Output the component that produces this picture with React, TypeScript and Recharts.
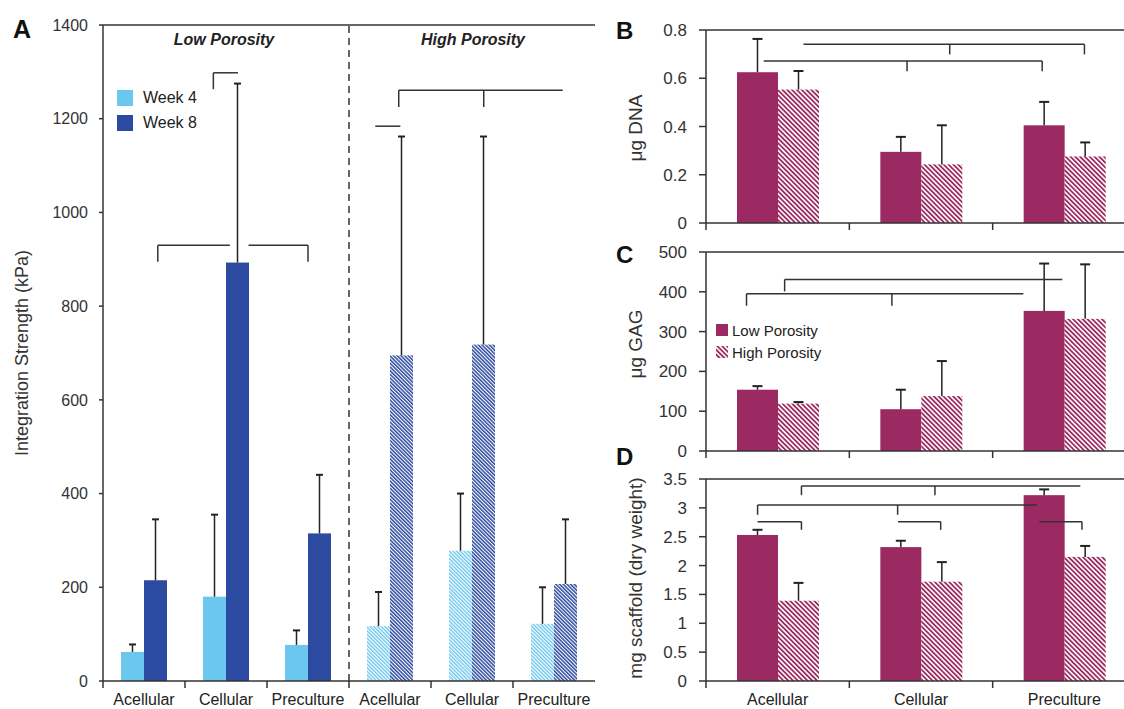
import React from "react";
import { BarChart, Bar, XAxis, YAxis, Cell, ReferenceLine, Legend } from "recharts";

const FONT = '"Liberation Sans", Arial, Helvetica, sans-serif';
const LIGHT = "#6cc7ee";
const DARK = "#2c4a9f";
const MAROON = "#9c2a62";
const INK = "#333";

// Panel A: integration strength (kPa), week 4 vs week 8
const strengthIds = ["LP-Acellular", "LP-Cellular", "LP-Preculture", "HP-Acellular", "HP-Cellular", "HP-Preculture"];
const strengthLabels = ["Acellular", "Cellular", "Preculture", "Acellular", "Cellular", "Preculture"];
const week4 = [62, 180, 77, 117, 278, 122];
const week4Sd = [16, 175, 31, 73, 122, 78];
const week8 = [215, 893, 315, 695, 718, 207];
const week8Sd = [130, 382, 125, 467, 444, 138];
const strengthTicks = [0, 200, 400, 600, 800, 1000, 1200, 1400];

// Panels B-D: low vs high porosity
const groups = ["Acellular", "Cellular", "Preculture"];
const seriesOrder = ["Low Porosity", "High Porosity"];
const dnaLow = [0.625, 0.295, 0.405];
const dnaLowSd = [0.138, 0.062, 0.097];
const dnaHigh = [0.553, 0.243, 0.276];
const dnaHighSd = [0.077, 0.162, 0.058];
const dnaTicks = [0, 0.2, 0.4, 0.6, 0.8];

const gagLow = [154, 105, 352];
const gagLowSd = [9, 49, 119];
const gagHigh = [119, 138, 332];
const gagHighSd = [4, 88, 137];
const gagTicks = [0, 100, 200, 300, 400, 500];

const massLow = [2.53, 2.32, 3.22];
const massLowSd = [0.09, 0.11, 0.1];
const massHigh = [1.39, 1.72, 2.15];
const massHighSd = [0.31, 0.34, 0.19];
const massTicks = [0, 0.5, 1, 1.5, 2, 2.5, 3, 3.5];

// significance brackets: [category, offset in bar widths from the category centre]
type Anchor = [string, number];
type Bracket = { y: number; drop: number; from: Anchor; to: Anchor; legs: Anchor[] };

const strengthBrackets: Bracket[] = [
  { y: 1298, drop: 35, from: ["LP-Cellular", -0.55], to: ["LP-Cellular", 0.52], legs: [["LP-Cellular", -0.55]] },
  { y: 930, drop: 35, from: ["LP-Acellular", 0.6], to: ["LP-Cellular", 0.17], legs: [["LP-Acellular", 0.6]] },
  { y: 930, drop: 35, from: ["LP-Cellular", 0.98], to: ["LP-Preculture", 0], legs: [["LP-Preculture", 0]] },
  { y: 1261, drop: 36, from: ["HP-Acellular", 0.38], to: ["HP-Preculture", 0.38], legs: [["HP-Acellular", 0.38], ["HP-Cellular", 0.51]] },
  { y: 1184, drop: 0, from: ["HP-Acellular", -0.64], to: ["HP-Acellular", 0.45], legs: [] },
];
const dnaBrackets: Bracket[] = [
  { y: 0.741, drop: 0.042, from: ["Acellular", 0.63], to: ["Preculture", 0.49], legs: [["Cellular", 0.7], ["Preculture", 0.49]] },
  { y: 0.671, drop: 0.042, from: ["Acellular", -0.34], to: ["Preculture", -0.54], legs: [["Cellular", -0.34], ["Preculture", -0.54]] },
];
const gagBrackets: Bracket[] = [
  { y: 431, drop: 30, from: ["Acellular", 0.17], to: ["Preculture", -0.05], legs: [["Acellular", 0.17]] },
  { y: 395, drop: 30, from: ["Acellular", -0.76], to: ["Preculture", -1.0], legs: [["Acellular", -0.76], ["Cellular", -0.71]] },
];
const massBrackets: Bracket[] = [
  { y: 3.38, drop: 0.16, from: ["Acellular", 0.58], to: ["Preculture", 0.39], legs: [["Acellular", 0.58], ["Cellular", 0.34]] },
  { y: 3.05, drop: 0.17, from: ["Acellular", -0.49], to: ["Preculture", -0.67], legs: [["Acellular", -0.49], ["Cellular", -0.57]] },
  { y: 2.76, drop: 0.14, from: ["Acellular", -0.49], to: ["Acellular", 0.58], legs: [["Acellular", 0.58]] },
  { y: 2.76, drop: 0.14, from: ["Cellular", -0.56], to: ["Cellular", 0.48], legs: [["Cellular", 0.48]] },
  { y: 2.76, drop: 0.14, from: ["Preculture", -0.61], to: ["Preculture", 0.43], legs: [["Preculture", 0.43]] },
];

const strengthData = strengthIds.map((id, i) => ({
  id,
  label: strengthLabels[i],
  week4: week4[i],
  week4Sd: week4Sd[i],
  week8: week8[i],
  week8Sd: week8Sd[i],
}));

const pairData = (low: number[], lowSd: number[], high: number[], highSd: number[]) =>
  groups.map((g, i) => ({ group: g, low: low[i], lowSd: lowSd[i], high: high[i], highSd: highSd[i] }));

const dnaData = pairData(dnaLow, dnaLowSd, dnaHigh, dnaHighSd);
const gagData = pairData(gagLow, gagLowSd, gagHigh, gagHighSd);
const massData = pairData(massLow, massLowSd, massHigh, massHighSd);

// bar with a one-sided (upper) error bar
const errorShape = (valKey: string, sdKey: string, cap: number) => (props: any) => {
  const { x, y, width, height, fill, payload } = props;
  const v = payload[valKey];
  const top = y - (payload[sdKey] * height) / v;
  const cx = x + width / 2;
  return (
    <g>
      <rect x={x} y={y} width={width} height={height} fill={fill} />
      <line x1={cx} y1={y} x2={cx} y2={top} stroke="#222" strokeWidth={1.5} />
      <line x1={cx - cap / 2} y1={top} x2={cx + cap / 2} y2={top} stroke="#222" strokeWidth={2} />
    </g>
  );
};

function bracketLines(list: Bracket[], bs: number, key: string) {
  const out: React.ReactNode[] = [];
  list.forEach((b, i) => {
    out.push(
      <ReferenceLine
        key={`${key}-h${i}`}
        segment={[{ x: b.from[0], y: b.y }, { x: b.to[0], y: b.y }]}
        ifOverflow="visible"
        shape={(p: any) => (
          <line x1={p.x1 + b.from[1] * bs} y1={p.y1} x2={p.x2 + b.to[1] * bs} y2={p.y2} stroke={INK} strokeWidth={1.5} />
        )}
      />
    );
    b.legs.forEach((leg, j) => {
      out.push(
        <ReferenceLine
          key={`${key}-v${i}-${j}`}
          segment={[{ x: leg[0], y: b.y }, { x: leg[0], y: b.y - b.drop }]}
          ifOverflow="visible"
          shape={(p: any) => (
            <line x1={p.x1 + leg[1] * bs} y1={p.y1} x2={p.x2 + leg[1] * bs} y2={p.y2} stroke={INK} strokeWidth={1.5} />
          )}
        />
      );
    });
  });
  return out;
}

// category-boundary tick marks, optional centred label
const boundaryTick = (bandHalf: number, labels: Record<string, string> | null, fontSize: number, dy: number) => (props: any) => {
  const { x, y, payload } = props;
  const half = payload && payload.offset ? payload.offset : bandHalf;
  const bx = x - half;
  return (
    <g>
      <line x1={bx} y1={y} x2={bx} y2={y + 7} stroke={INK} strokeWidth={1.5} />
      {labels && (
        <text x={x} y={y + dy} textAnchor="middle" fontSize={fontSize} fill="#222" fontFamily={FONT}>
          {labels[payload.value] ?? payload.value}
        </text>
      )}
    </g>
  );
};

const swatchLegend = (box: number, row: number, fontSize: number, gap: number) => (props: any) => (
  <div style={{ fontFamily: FONT, fontSize, color: "#222" }}>
    {(props.payload || []).map((e: any) => (
      <div key={e.value} style={{ display: "flex", alignItems: "center", height: row, whiteSpace: "nowrap" }}>
        <svg width={box} height={box} style={{ marginRight: gap, display: "block" }}>
          <rect width={box} height={box} fill={e.color} />
        </svg>
        <span>{e.value}</span>
      </div>
    ))}
  </div>
);

const labelMap: Record<string, string> = Object.fromEntries(strengthIds.map((id, i) => [id, strengthLabels[i]]));
const smallTickStyle = { fontSize: 17, fill: "#333", fontFamily: FONT };

function PairPanel({ data, ticks, max, brackets, top, height, marginTop, axisHeight, showLabels, legend }: any) {
  return (
    <div style={{ position: "absolute", left: 600, top }}>
      <BarChart width={540} height={height} data={data} margin={{ top: marginTop, right: 4, bottom: 0, left: 0 }} barGap={0}>
        <XAxis
          dataKey="group"
          height={axisHeight}
          interval={0}
          tickLine={false}
          tickSize={0}
          tickMargin={0}
          axisLine={{ stroke: INK, strokeWidth: 1.5 }}
          tick={boundaryTick(430 / 6, showLabels ? {} : null, 16, 24)}
        />
        <YAxis
          width={106}
          domain={[0, max]}
          ticks={ticks}
          interval={0}
          tickSize={7}
          tickMargin={12}
          tick={smallTickStyle}
          axisLine={{ stroke: INK, strokeWidth: 1.5 }}
          tickLine={{ stroke: INK, strokeWidth: 1.5 }}
        />
        <ReferenceLine y={max} stroke={INK} strokeWidth={1.5} ifOverflow="visible" />
        <Bar dataKey="low" name="Low Porosity" fill={MAROON} barSize={41} isAnimationActive={false} shape={errorShape("low", "lowSd", 10)} />
        <Bar dataKey="high" name="High Porosity" fill="url(#hatchMaroon)" barSize={41} isAnimationActive={false} shape={errorShape("high", "highSd", 10)} />
        {bracketLines(brackets, 41, "b" + top)}
        {legend && (
          <Legend
            layout="vertical"
            align="center"
            verticalAlign="middle"
            itemSorter={(item: any) => seriesOrder.indexOf(item.value)}
            wrapperStyle={{ left: 116, top: 87, width: 140, height: 44 }}
            content={swatchLegend(12, 22, 15, 4)}
          />
        )}
      </BarChart>
    </div>
  );
}

export default function App() {
  return (
    <div style={{ position: "absolute", left: 0, top: 0, width: 1124, height: 709, overflow: "hidden", background: "#fff", fontFamily: FONT }}>
      <svg width={0} height={0} style={{ position: "absolute" }}>
        <defs>
          <pattern id="hatchLight" patternUnits="userSpaceOnUse" width={2.6} height={2.6} patternTransform="rotate(-45)">
            <rect width={2.6} height={2.6} fill="#fff" />
            <rect width={1.4} height={2.6} fill={LIGHT} />
          </pattern>
          <pattern id="hatchDark" patternUnits="userSpaceOnUse" width={2.6} height={2.6} patternTransform="rotate(-45)">
            <rect width={2.6} height={2.6} fill="#fff" />
            <rect width={1.5} height={2.6} fill={DARK} />
          </pattern>
          <pattern id="hatchMaroon" patternUnits="userSpaceOnUse" width={3.4} height={3.4} patternTransform="rotate(-45)">
            <rect width={3.4} height={3.4} fill="#fff" />
            <rect width={1.8} height={3.4} fill={MAROON} />
          </pattern>
        </defs>
      </svg>

      <div style={{ position: "absolute", left: 0, top: 0 }}>
        <BarChart width={600} height={709} data={strengthData} margin={{ top: 25, right: 5, bottom: 0, left: 0 }} barGap={0}>
          <XAxis
            dataKey="id"
            height={28}
            interval={0}
            tickLine={false}
            tickSize={0}
            tickMargin={0}
            axisLine={{ stroke: INK, strokeWidth: 1.5 }}
            tick={boundaryTick(41, labelMap, 16, 24)}
          />
          <YAxis
            width={103}
            domain={[0, 1400]}
            ticks={strengthTicks}
            interval={0}
            tickSize={4}
            tickMargin={11}
            tick={{ fontSize: 16, fill: "#333", fontFamily: FONT }}
            axisLine={{ stroke: INK, strokeWidth: 1.5 }}
            tickLine={{ stroke: INK, strokeWidth: 1.5 }}
          />
          <ReferenceLine y={1400} stroke={INK} strokeWidth={1.5} ifOverflow="visible" />
          <ReferenceLine x="HP-Acellular" position="start" stroke={INK} strokeWidth={1.5} strokeDasharray="7 5" />
          <Bar dataKey="week4" name="Week 4" fill={LIGHT} barSize={23} isAnimationActive={false} shape={errorShape("week4", "week4Sd", 7)}>
            {strengthData.map((d) => (
              <Cell key={d.id} fill={d.id.startsWith("HP") ? "url(#hatchLight)" : LIGHT} />
            ))}
          </Bar>
          <Bar dataKey="week8" name="Week 8" fill={DARK} barSize={23} isAnimationActive={false} shape={errorShape("week8", "week8Sd", 7)}>
            {strengthData.map((d) => (
              <Cell key={d.id} fill={d.id.startsWith("HP") ? "url(#hatchDark)" : DARK} />
            ))}
          </Bar>
          {bracketLines(strengthBrackets, 23, "a")}
          <Legend
            layout="vertical"
            align="center"
            verticalAlign="middle"
            wrapperStyle={{ left: 117, top: 85, width: 120, height: 50 }}
            content={swatchLegend(16, 25, 16, 10)}
          />
        </BarChart>
      </div>

      <PairPanel data={dnaData} ticks={dnaTicks} max={0.8} brackets={dnaBrackets} top={0} height={233} marginTop={30} axisHeight={10} />
      <PairPanel data={gagData} ticks={gagTicks} max={500} brackets={gagBrackets} top={232} height={228} marginTop={20} axisHeight={9} legend />
      <PairPanel data={massData} ticks={massTicks} max={3.5} brackets={massBrackets} top={460} height={249} marginTop={19} axisHeight={28} showLabels />

      <svg width={1124} height={709} style={{ position: "absolute", left: 0, top: 0, pointerEvents: "none" }} fontFamily={FONT}>
        <text x={13} y={38} fontSize={25} fontWeight="bold" fill="#111">A</text>
        <text x={616} y={39} fontSize={24} fontWeight="bold" fill="#111">B</text>
        <text x={616} y={263} fontSize={24} fontWeight="bold" fill="#111">C</text>
        <text x={616} y={465} fontSize={24} fontWeight="bold" fill="#111">D</text>
        <text x={224} y={45} textAnchor="middle" fontSize={16} fontWeight="bold" fontStyle="italic" fill="#222">Low Porosity</text>
        <text x={473} y={45} textAnchor="middle" fontSize={16} fontWeight="bold" fontStyle="italic" fill="#222">High Porosity</text>
        <text transform="translate(22,353) rotate(-90)" textAnchor="middle" dominantBaseline="central" fontSize={18} fill="#333">Integration Strength (kPa)</text>
        <text transform="translate(635,128) rotate(-90)" textAnchor="middle" dominantBaseline="central" fontSize={19} fill="#333">μg DNA</text>
        <text transform="translate(635,344) rotate(-90)" textAnchor="middle" dominantBaseline="central" fontSize={19} fill="#333">μg GAG</text>
        <text transform="translate(635,578) rotate(-90)" textAnchor="middle" dominantBaseline="central" fontSize={19} fill="#333">mg scaffold (dry weight)</text>
      </svg>
    </div>
  );
}
